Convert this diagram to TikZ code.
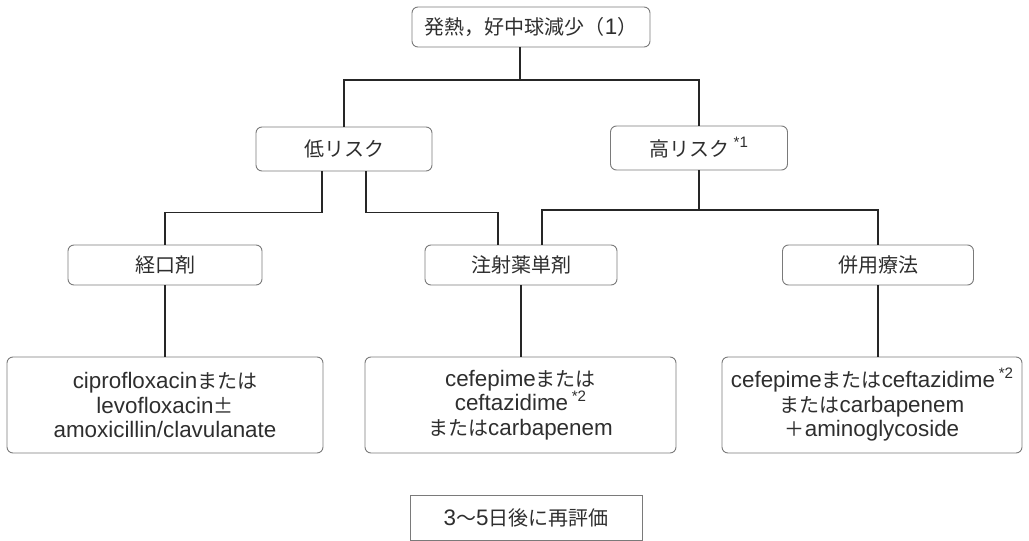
\documentclass[tikz,border=0pt]{standalone}
\usepackage{fontspec}
\setmainfont[Scale=1.12]{Liberation Sans}
\newfontfamily\jp{Noto Sans CJK JP}
\definecolor{txt}{HTML}{2E2E2E}
\definecolor{boxline}{HTML}{7A7A7A}
\definecolor{conn}{HTML}{262626}
\newcommand{\supmark}[1]{\,\raisebox{0.40em}{\fontsize{13.5}{13.5}\selectfont #1}}
\begin{document}
\begin{tikzpicture}[x=1pt,y=-1pt,
  every node/.style={text=txt,font=\fontsize{20}{24.5}\selectfont,align=center,inner sep=0pt},
  rbox/.style={draw=boxline,line width=0.9pt,rounded corners=6pt},
  sbox/.style={draw=boxline,line width=0.9pt},
  link/.style={draw=conn,line width=1.2pt}]
\useasboundingbox (0,0) rectangle (1029,541);
\node[rbox,minimum width=238pt,minimum height=40pt] (top) at (531,27) {{\jp 発熱，好中球減少（}1{\jp ）}};
\node[rbox,minimum width=176pt,minimum height=44pt] (low) at (344,149) {\jp 低リスク};
\node[rbox,minimum width=177pt,minimum height=44pt] (high) at (699,148) {{\jp 高リスク}\supmark{*1}};
\node[rbox,minimum width=194pt,minimum height=40pt] (oral) at (165,265) {\jp 経口剤};
\node[rbox,minimum width=192pt,minimum height=40pt] (inj) at (521,265) {\jp 注射薬単剤};
\node[rbox,minimum width=191pt,minimum height=40pt] (comb) at (878,265) {\jp 併用療法};
\node[rbox,minimum width=316pt,minimum height=96pt] (b1) at (165,405)
  {ciprofloxacin{\jp または}\\levofloxacin{\jp ±}\\amoxicillin/clavulanate};
\node[rbox,minimum width=311pt,minimum height=96pt] (b2) at (520.5,405)
  {cefepime{\jp または}\\ceftazidime\supmark{*2}\\{\jp または}carbapenem};
\node[rbox,minimum width=300pt,minimum height=96pt] (b3) at (872,405)
  {cefepime{\jp または}ceftazidime\supmark{*2}\\{\jp または}carbapenem\\{\jp ＋}aminoglycoside};
\node[sbox,minimum width=232pt,minimum height=45pt] (re) at (526,517.5) {3{\jp 〜}5{\jp 日後に再評価}};
\coordinate (j1) at (520,80);
\coordinate (h2) at (699,210);
\draw[link] ([xshift=-11pt]top.south) -- (j1);
\draw[link] (low.north) |- (j1) -| (high.north);
\draw[link] ([xshift=-22pt]low.south) -- ++(0,-41pt) -| (oral.north);
\draw[link] ([xshift=22pt]low.south) -- ++(0,-41pt) -| ([xshift=-23pt]inj.north);
\draw[link] (high.south) -- (h2);
\draw[link] ([xshift=21pt]inj.north) |- (h2) -| (comb.north);
\draw[link] (oral.south) -- (b1.north);
\draw[link] (inj.south) -- (inj.south |- b2.north);
\draw[link] (comb.south) -- (comb.south |- b3.north);
\end{tikzpicture}
\end{document}
